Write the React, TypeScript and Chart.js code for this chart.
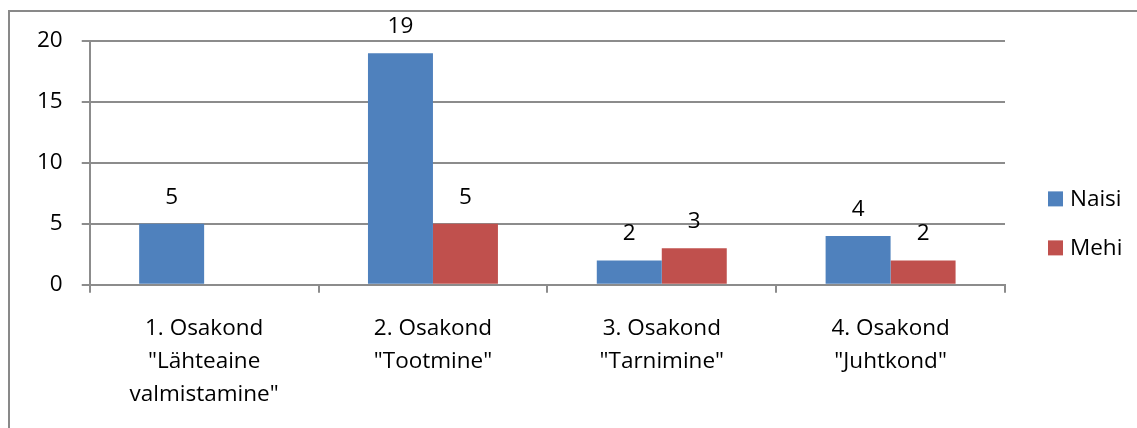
import React, { useEffect, useRef } from "react";
import { Chart, registerables } from "chart.js";

Chart.register(...registerables);

const categories: string[][] = [
  ["1. Osakond", "\"Lähteaine", "valmistamine\""],
  ["2. Osakond", "\"Tootmine\""],
  ["3. Osakond", "\"Tarnimine\""],
  ["4. Osakond", "\"Juhtkond\""],
];
const naisi: (number | null)[] = [5, 19, 2, 4];
const mehi: (number | null)[] = [null, 5, 3, 2];
const seriesNames = ["Naisi", "Mehi"];
const seriesColors = ["#4F81BD", "#C0504D"];
const yTicks = [0, 5, 10, 15, 20];

const FONT = "'Open Sans', 'Noto Sans', sans-serif";
const FONT_SIZE = 22.5;
const GRID = "#8c8c8c";

const dataLabels = {
  id: "dataLabels",
  afterDatasetsDraw(chart: any) {
    const ctx = chart.ctx;
    ctx.save();
    ctx.font = `${FONT_SIZE}px ${FONT}`;
    ctx.fillStyle = "#000";
    ctx.textAlign = "center";
    ctx.textBaseline = "alphabetic";
    chart.data.datasets.forEach((ds: any, i: number) => {
      const meta = chart.getDatasetMeta(i);
      meta.data.forEach((el: any, j: number) => {
        const v = ds.data[j];
        if (v === null || v === undefined) return;
        ctx.fillText(String(v), el.x, el.y - 20);
      });
    });
    ctx.restore();
  },
};

const customLegend = {
  id: "customLegend",
  afterDraw(chart: any) {
    const ctx = chart.ctx;
    const area = chart.chartArea;
    ctx.save();
    ctx.font = `${FONT_SIZE}px ${FONT}`;
    ctx.textAlign = "left";
    ctx.textBaseline = "middle";
    const x = area.right + 43;
    const n = chart.data.datasets.length;
    const spacing = 49;
    const centerY = area.top + (area.bottom - area.top) / 2 + 60.5;
    chart.data.datasets.forEach((ds: any, i: number) => {
      const cy = centerY + (i - (n - 1) / 2) * spacing;
      ctx.fillStyle = ds.backgroundColor;
      ctx.fillRect(x, cy - 7.5, 15, 15);
      ctx.fillStyle = "#000";
      ctx.fillText(ds.label, x + 22, cy + 1);
    });
    ctx.restore();
  },
};

export default function App() {
  const ref = useRef<HTMLCanvasElement | null>(null);
  useEffect(() => {
    if (!ref.current) return;
    Chart.defaults.font.family = FONT;
    Chart.defaults.font.size = FONT_SIZE;
    Chart.defaults.color = "#000";
    const chart = new Chart(ref.current, {
      type: "bar",
      data: {
        labels: categories,
        datasets: [
          { label: seriesNames[0], data: naisi, backgroundColor: seriesColors[0] },
          { label: seriesNames[1], data: mehi, backgroundColor: seriesColors[1] },
        ],
      },
      options: {
        animation: false,
        responsive: false,
        maintainAspectRatio: false,
        datasets: { bar: { categoryPercentage: 0.568, barPercentage: 1 } },
        layout: { padding: { left: 18, right: 132, top: 41, bottom: -2 } },
        plugins: { legend: { display: false }, tooltip: { enabled: false } },
        scales: {
          x: {
            grid: {
              drawOnChartArea: false,
              color: GRID,
              lineWidth: 2,
              tickLength: 8,
              offset: true,
            },
            border: { color: GRID, width: 2 },
            ticks: {
              padding: 19,
              maxRotation: 0,
              autoSkip: false,
              font: { size: FONT_SIZE, lineHeight: 1.47 },
            },
          },
          y: {
            min: 0,
            max: 20,
            afterBuildTicks(scale: any) {
              scale.ticks = yTicks.map((v) => ({ value: v }));
            },
            grid: { color: GRID, lineWidth: 2, tickLength: 8 },
            border: { color: GRID, width: 2 },
            ticks: { padding: 19, font: { size: FONT_SIZE } },
          },
        },
      },
      plugins: [dataLabels, customLegend],
    } as any);
    return () => chart.destroy();
  }, []);

  return (
    <div style={{ position: "fixed", left: 0, top: 0, width: 1137, height: 428, background: "#fff" }}>
      <div
        style={{
          position: "absolute",
          left: 8,
          top: 10,
          right: -4,
          bottom: -4,
          borderLeft: "2px solid #898989",
          borderTop: "2px solid #898989",
        }}
      />
      <canvas ref={ref} width={1137} height={428} style={{ position: "absolute", left: 0, top: 0 }} />
    </div>
  );
}
